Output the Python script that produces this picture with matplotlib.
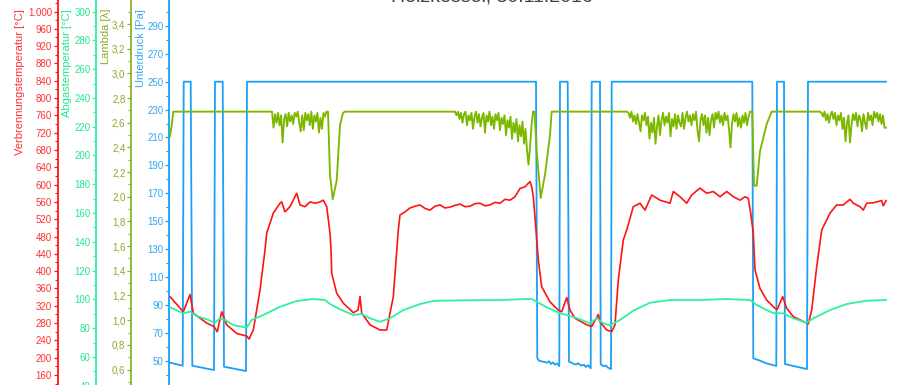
import matplotlib
matplotlib.use("Agg")
import matplotlib.pyplot as plt
from matplotlib.ticker import FixedLocator, MultipleLocator, FuncFormatter
import numpy as np

plt.rcParams['font.family'] = ['Liberation Sans', 'DejaVu Sans']

# ---------------- data ----------------
title = "Holzkessel, 30.11.2016"

# Unterdruck [Pa]
ud_t = [0, 12.7, 13.7, 20.7, 22.3, 44, 45, 52.7, 54, 76,
        77, 366, 367.3, 369, 373, 377, 379, 381, 383, 385,
        387, 389.3, 390, 397.7, 399, 403, 406, 408, 411, 414,
        416, 418, 420.7, 421.7, 430, 430.7, 434, 436, 438, 441,
        441.7, 582.3, 583.3, 590, 597, 606.3, 607, 614, 615, 637,
        638, 716]
ud = [48.6, 46.4, 250, 250, 46.4, 43.3, 250, 250, 45.7, 42.6,
      250, 250, 51.7, 50.0, 49.3, 48.6, 49.6, 47.6, 48.8, 47.2,
      48.0, 46.2, 250, 250, 49.3, 48.0, 47.2, 48.2, 46.5, 47.0,
      45.5, 46.8, 44.5, 250, 250, 47.4, 46.0, 46.5, 45.0, 44.0,
      250, 250, 51.7, 50.0, 48.0, 46.2, 250, 250, 47.6, 44.0,
      250, 250]

# Verbrennungstemperatur [°C]
vb_t = [0, 13.3, 20, 23.3, 36.7, 44, 47.3, 51.7, 56.7, 66.7,
        76.7, 79, 83.3, 90, 95, 96.7, 103.3, 110, 111.7, 115,
        120, 125, 126.7, 130, 135, 140, 145, 150, 153.3, 156.7,
        160, 161, 161.7, 166.7, 173.3, 183.3, 188, 190, 191.7, 200,
        210, 216.7, 223.3, 228.3, 230, 235, 240, 245, 250, 255,
        260, 265, 270, 275, 280, 285, 290, 295, 300, 305,
        310, 315, 320, 325, 330, 335, 340, 345, 350, 355,
        360, 361.7, 363.3, 366, 368.3, 371.7, 380, 388.3, 391.7, 396.7,
        400, 405, 416.7, 421.7, 428.3, 430, 436.7, 441.7, 445, 448.3,
        453.3, 456.7, 463.3, 470, 475, 481.7, 490, 500, 503.3, 510,
        516.7, 521.7, 530, 536.7, 543.3, 550, 556.7, 563.3, 570, 575,
        578.3, 580.7, 583.3, 585, 590, 596.7, 605, 607.3, 612.7, 616.7,
        623.3, 636.7, 638.3, 641.7, 646.7, 651.7, 660, 666.7, 673.3, 680,
        683.3, 690, 693.3, 696.7, 703.3, 711.7, 713.3, 716]
vb = [341, 306, 346, 303, 280, 272, 260, 306, 276, 256,
      250, 243, 264, 356, 449, 488, 534, 557, 560, 537,
      549, 572, 580, 553, 549, 560, 557, 560, 564, 549,
      488, 449, 395, 349, 326, 304, 310, 341, 303, 276,
      264, 264, 341, 495, 530, 537, 546, 550, 553, 545,
      541, 550, 553, 546, 548, 552, 555, 549, 550, 556,
      557, 551, 553, 559, 557, 566, 564, 572, 591, 595,
      607, 595, 572, 495, 426, 364, 329, 310, 306, 339,
      310, 291, 276, 272, 300, 283, 264, 260, 276, 380,
      472, 495, 549, 557, 541, 576, 564, 557, 584, 572,
      557, 576, 592, 580, 584, 572, 584, 572, 564, 572,
      568, 534, 488, 403, 360, 333, 314, 312, 341, 314,
      295, 280, 278, 310, 410, 495, 534, 553, 553, 566,
      557, 549, 541, 557, 558, 563, 551, 563]

# Abgastemperatur [°C]
ab_t = [0, 13.3, 20, 26.7, 36.7, 45, 50, 55, 63.3, 76.7,
        81.7, 93.3, 110, 126.7, 143.3, 155, 160, 170, 183.3, 191.7,
        200, 210, 220, 233.3, 250, 263.3, 270, 300, 330, 350,
        361.7, 366.7, 376.7, 390, 396.7, 410, 420, 426.7, 433.3, 440,
        450, 463.3, 480, 500, 530, 556.7, 580, 586.7, 603.3, 613.3,
        623.3, 636.7, 643.3, 660, 676.7, 696.7, 716]
ab = [94.5, 90.4, 91.5, 88.5, 86.2, 83.8, 86.9, 85.7, 82.2, 80.4,
      85.7, 89.2, 94.9, 98.9, 100.3, 99.6, 96.8, 93.1, 89.2, 89.9,
      86.9, 84.5, 86.9, 92.6, 96.8, 98.9, 99.1, 99.4, 99.6, 100.1,
      100.3, 98.4, 94.5, 90.4, 89.2, 86.2, 83.4, 86.9, 83.4, 82.0,
      85.7, 92.2, 97.7, 99.6, 99.6, 100.3, 99.6, 96.1, 90.4, 90.4,
      86.9, 83.8, 86.9, 92.6, 96.8, 99.1, 99.6]

# Lambda: smooth parts and noisy (fluctuating) parts
lam_a_t = [0, 1.7, 3.3]
lam_a = [2.49, 2.58, 2.69]
lam_n1_span = (102, 158)
lam_n1 = [2.69, 2.56, 2.67, 2.60, 2.68, 2.58, 2.66, 2.44, 2.63, 2.67,
          2.57, 2.68, 2.61, 2.66, 2.59, 2.68, 2.65, 2.69, 2.60, 2.53,
          2.66, 2.54, 2.68, 2.62, 2.67, 2.58, 2.69, 2.55, 2.66, 2.61,
          2.68, 2.52, 2.64, 2.55, 2.68, 2.65, 2.69, 2.69]
lam_b_t = [160, 162.7, 166.7, 170, 173, 175]
lam_b = [2.18, 1.98, 2.13, 2.58, 2.68, 2.69]
lam_n2_span = (285, 364.5)
lam_n2 = [2.69, 2.66, 2.69, 2.63, 2.68, 2.60, 2.67, 2.69, 2.58, 2.66,
          2.62, 2.68, 2.55, 2.65, 2.69, 2.60, 2.67, 2.57, 2.64, 2.68,
          2.52, 2.66, 2.61, 2.69, 2.58, 2.65, 2.55, 2.67, 2.62, 2.68,
          2.54, 2.64, 2.59, 2.66, 2.50, 2.62, 2.56, 2.65, 2.47, 2.60,
          2.52, 2.63, 2.45, 2.58, 2.49, 2.61, 2.43, 2.55, 2.38, 2.26,
          2.40, 2.58, 2.69, 2.69]
lam_c_t = [366.7, 370.7, 375, 380, 381.7]
lam_c = [2.37, 1.99, 2.18, 2.50, 2.69]
lam_n3_span = (457, 580)
lam_n3 = [2.69, 2.68, 2.64, 2.69, 2.61, 2.66, 2.59, 2.67, 2.60, 2.53,
          2.66, 2.62, 2.68, 2.58, 2.65, 2.47, 2.60, 2.52, 2.64, 2.43,
          2.57, 2.66, 2.50, 2.62, 2.68, 2.58, 2.65, 2.60, 2.68, 2.49,
          2.63, 2.57, 2.67, 2.55, 2.66, 2.60, 2.57, 2.68, 2.55, 2.64,
          2.69, 2.61, 2.66, 2.58, 2.67, 2.62, 2.69, 2.54, 2.45, 2.62,
          2.67, 2.58, 2.66, 2.52, 2.64, 2.50, 2.62, 2.67, 2.56, 2.68,
          2.63, 2.69, 2.60, 2.66, 2.58, 2.68, 2.62, 2.66, 2.55, 2.40,
          2.59, 2.67, 2.61, 2.68, 2.57, 2.64, 2.56, 2.66, 2.60, 2.68,
          2.58, 2.65, 2.69]
lam_d_t = [582.3, 584, 586.7, 590, 596.7, 601.7]
lam_d = [2.69, 2.09, 2.09, 2.37, 2.59, 2.69]
lam_n4_span = (650, 716)
lam_n4 = [2.69, 2.68, 2.65, 2.69, 2.62, 2.67, 2.60, 2.66, 2.69, 2.63,
          2.68, 2.58, 2.66, 2.62, 2.68, 2.55, 2.64, 2.45, 2.60, 2.66,
          2.44, 2.58, 2.67, 2.62, 2.68, 2.57, 2.66, 2.63, 2.53, 2.67,
          2.60, 2.55, 2.68, 2.62, 2.66, 2.58, 2.69, 2.64, 2.68, 2.61,
          2.67, 2.59, 2.66, 2.56, 2.56]

red_ticks = list(range(160, 1001, 40))
mint_ticks = list(range(40, 301, 20))
lam_ticks = [0.6, 0.8, 1.0, 1.2, 1.4, 1.6, 1.8, 2.0, 2.2, 2.4, 2.6, 2.8, 3.0, 3.2, 3.4]
ud_ticks = list(range(30, 291, 20))

# ---------------- build lambda series ----------------
def seg(span, vals):
    return list(np.linspace(span[0], span[1], len(vals))), list(vals)

lam_t, lam = [], []
for tt, vv in [(lam_a_t, lam_a), seg(lam_n1_span, lam_n1), (lam_b_t, lam_b),
               seg(lam_n2_span, lam_n2), (lam_c_t, lam_c), seg(lam_n3_span, lam_n3),
               (lam_d_t, lam_d), seg(lam_n4_span, lam_n4)]:
    lam_t += list(tt)
    lam += list(vv)

# ---------------- colours ----------------
C_RED = '#ff1414'
C_MINT = '#2ef29c'
C_LAM = '#7db800'
C_LAM_AX = '#8ab42a'
C_BLUE = '#1c9ff5'
C_BLUE_AX = '#33a6f5'

W, H = 903, 385
fig = plt.figure(figsize=(W / 100, H / 100), dpi=100)

left_px, right_px = 169, 890
top_px, bot_px = -20, 405
ax = fig.add_axes([left_px / W, 1 - bot_px / H, (right_px - left_px) / W, (bot_px - top_px) / H])
ax.patch.set_alpha(0)
ax.set_xlim(-1, 720)

def style_axis(a, color, tcolor, ylim, ticks, minor, fmt, pos_px):
    a.set_ylim(*ylim)
    for s in ['top', 'right', 'bottom']:
        a.spines[s].set_visible(False)
    a.spines['left'].set_visible(True)
    a.spines['left'].set_color(color)
    a.spines['left'].set_linewidth(1.3)
    a.spines['left'].set_position(('axes', (pos_px - left_px) / (right_px - left_px)))
    a.yaxis.set_ticks_position('left')
    a.yaxis.set_label_position('left')
    a.yaxis.set_major_locator(FixedLocator(ticks))
    a.yaxis.set_minor_locator(MultipleLocator(minor))
    a.yaxis.set_major_formatter(FuncFormatter(fmt))
    a.tick_params(axis='y', which='major', direction='out', length=3, width=0.9,
                  color=color, labelcolor=tcolor, labelsize=7, pad=1)
    a.tick_params(axis='y', which='minor', direction='out', length=2, width=0.8, color=color)
    a.tick_params(axis='x', bottom=False, labelbottom=False)

def fmt_red(v, p):
    v = int(round(v))
    return f"{v:,}".replace(',', '.')

def fmt_int(v, p):
    return f"{int(round(v))}"

def fmt_lam(v, p):
    return f"{v:.1f}".replace('.', ',')

# blue host
style_axis(ax, C_BLUE, C_BLUE_AX, (18.24, 322.9), ud_ticks, 10, fmt_int, 169)
ax.spines['left'].set_position(('outward', 0))

ax_red = ax.twinx()
ax_mint = ax.twinx()
ax_lam = ax.twinx()
style_axis(ax_red, C_RED, '#ff3030', (90.7, 1072.8), red_ticks, 20, fmt_red, 57.5)
style_axis(ax_mint, C_MINT, '#22e890', (26.66, 321.9), mint_ticks, 10, fmt_int, 96)
style_axis(ax_lam, C_LAM_AX, '#86ac28', (0.3124, 3.757), lam_ticks, 0.1, fmt_lam, 131)

ax.plot(ud_t, ud, color=C_BLUE, lw=1.3, solid_joinstyle='round')
ax_lam.plot(lam_t, lam, color=C_LAM, lw=1.35)
ax_mint.plot(ab_t, ab, color=C_MINT, lw=1.3)
ax_red.plot(vb_t, vb, color=C_RED, lw=1.2)

# axis labels (top aligned)
label_y = 1 - 9 / H
fig.text(20 / W, label_y, "Verbrennungstemperatur [°C]", rotation=90, va='top', ha='center',
         color='#ff3030', fontsize=8)
fig.text(67.5 / W, label_y, "Abgastemperatur [°C]", rotation=90, va='top', ha='center',
         color='#22e890', fontsize=8)
fig.text(106 / W, label_y, "Lambda [λ]", rotation=90, va='top', ha='center',
         color='#86ac28', fontsize=8)
fig.text(141.5 / W, label_y, "Unterdruck [Pa]", rotation=90, va='top', ha='center',
         color=C_BLUE_AX, fontsize=8)

# title (mostly above the visible area, as in the reference crop)
fig.text(492 / W, 1 - 2 / H, title, ha='center', va='baseline', fontsize=14, color='#404040')

fig.savefig("out.png", dpi=100)
